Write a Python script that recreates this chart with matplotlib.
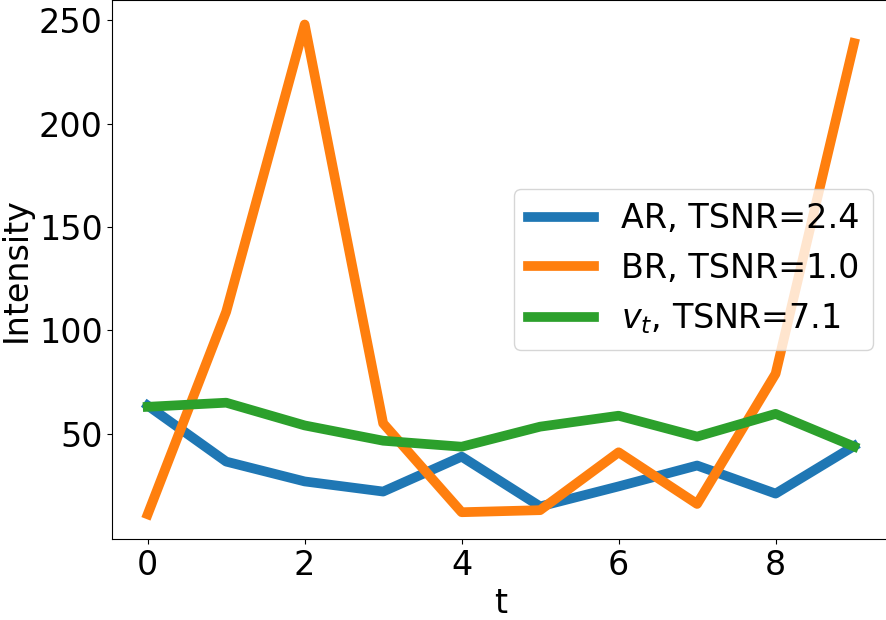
import matplotlib
matplotlib.use('Agg')
import matplotlib.pyplot as plt
import numpy as np


T = np.arange(10)

AR_VALUES = [63.6, 36.5, 26.9, 22.0, 38.9, 14.8, 24.5, 34.6, 21.0, 44.0]
BR_VALUES = [11.0, 109.0, 248.0, 55.0, 12.0, 13.0, 41.0, 16.0, 79.0, 239.0]
VT_VALUES = [63.0, 65.0, 54.0, 46.6, 43.7, 53.4, 58.7, 48.6, 59.6, 43.8]

LABELS = ['AR, TSNR=2.4', 'BR, TSNR=1.0', r'$v_t$, TSNR=7.1']

FONT_SIZE = 24
LINE_WIDTH = 7


def main():

    plt.rcParams['font.size'] = FONT_SIZE

    fig = plt.figure(figsize=(8.87, 6.20), dpi=100)
    axes = fig.add_axes([0.1267, 0.131, 0.876, 0.869])

    for values, label in zip((AR_VALUES, BR_VALUES, VT_VALUES), LABELS):
        axes.plot(T, values, linewidth=LINE_WIDTH, label=label)

    axes.set_xticks([0, 2, 4, 6, 8])
    axes.set_yticks([50, 100, 150, 200, 250])
    axes.set_xlabel('t')
    axes.set_ylabel('Intensity')
    axes.legend(loc='center right')

    fig.savefig('out.png', dpi=100)


if __name__ == '__main__':
    main()
